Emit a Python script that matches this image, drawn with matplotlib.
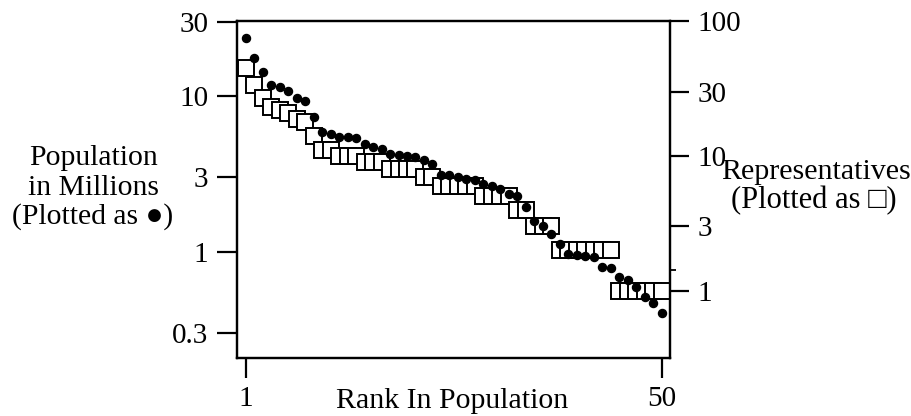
import numpy as np
import matplotlib
matplotlib.use('Agg')
import matplotlib.pyplot as plt
from matplotlib.ticker import FixedLocator, NullFormatter

# 1980 census: state population (millions), ranked, and House seats
population = [23.668, 17.558, 14.229, 11.864, 11.427, 10.798, 9.746, 9.262,
              7.365, 5.882, 5.737, 5.490, 5.463, 5.347, 4.917, 4.706, 4.591,
              4.217, 4.206, 4.132, 4.076, 3.894, 3.661, 3.122, 3.108, 3.025,
              2.914, 2.890, 2.718, 2.633, 2.521, 2.364, 2.286, 1.950, 1.570,
              1.461, 1.303, 1.125, 0.965, 0.947, 0.944, 0.921, 0.800, 0.787,
              0.691, 0.653, 0.594, 0.511, 0.470, 0.402]
representatives = [45, 34, 27, 23, 22, 21, 19, 18, 14, 11, 11, 10, 10, 10,
                   9, 9, 9, 8, 8, 8, 8, 7, 7, 6, 6, 6, 6, 6, 5, 5, 5, 5, 4, 4,
                   3, 3, 3, 2, 2, 2, 2, 2, 2, 2, 1, 1, 1, 1, 1, 1]
rank = np.arange(1, len(population) + 1)

pop_ticks = [0.3, 1, 3, 10, 30]
pop_labels = ['0.3', '1', '3', '10', '30']
rep_ticks = [1, 3, 10, 30, 100]
rep_labels = ['1', '3', '10', '30', '100']
rep_minor = [1.414]   # sqrt(1*2): rounding boundary between 1 and 2 seats

W, H = 911, 416
plt.rcParams['font.family'] = ['Liberation Serif', 'DejaVu Sans']
plt.rcParams['font.size'] = 20

fig = plt.figure(figsize=(W / 100, H / 100), dpi=100)
ax = fig.add_axes([236.7 / W, 1 - 358 / H, (669.5 - 236.7) / W, (358 - 20.5) / H])
ax2 = ax.twinx()

# squares for seats on the right scale
ax2.plot(rank, representatives, linestyle='none', marker='s', ms=11.2,
         mfc='white', mec='black', mew=1.4)
# dots for population on the left scale, drawn on top
ax.plot(rank, population, linestyle='none', marker='o', ms=5.8,
        mfc='black', mec='black')
ax.set_zorder(ax2.get_zorder() + 1)
ax.patch.set_visible(False)

ax.set_xlim(-0.06, 50.92)
ax.set_yscale('log')
ax.set_ylim(0.2074, 30.6)
ax2.set_yscale('log')
ax2.set_ylim(0.315, 101.7)

ax.set_xticks([1, 50])
ax.set_xticklabels(['1', '50'])
ax.yaxis.set_major_locator(FixedLocator(pop_ticks))
ax.yaxis.set_minor_locator(FixedLocator([]))
ax.set_yticklabels(pop_labels)
ax2.yaxis.set_major_locator(FixedLocator(rep_ticks))
ax2.yaxis.set_minor_locator(FixedLocator(rep_minor))
ax2.yaxis.set_minor_formatter(NullFormatter())
ax2.set_yticklabels(rep_labels)

for a in (ax, ax2):
    for s in a.spines.values():
        s.set_linewidth(1.6)
ax.tick_params(axis='both', which='major', direction='out', length=14.5,
               width=1.6, pad=6, labelsize=21)
ax2.tick_params(axis='y', which='major', direction='out', length=14,
                width=1.6, pad=6, labelsize=21)
ax2.tick_params(axis='y', which='minor', direction='out', length=4.5,
                width=1.3)


def ftext(x, y, s, size=21.3, **kw):
    fig.text(x / W, 1 - y / H, s, va='baseline', fontsize=size, **kw)


ftext(93, 165, 'Population', ha='center')
ftext(93, 195, 'in Millions', ha='center')
ftext(93, 224, '(Plotted as \u25cf)', ha='center')
ftext(816, 179, 'Representatives', size=21.6, ha='center')
ftext(814, 208, '(Plotted as \u25a1)', size=22, ha='center')
ftext(452, 408, 'Rank In Population', size=21.5, ha='center')

fig.savefig('out.png', dpi=100)
